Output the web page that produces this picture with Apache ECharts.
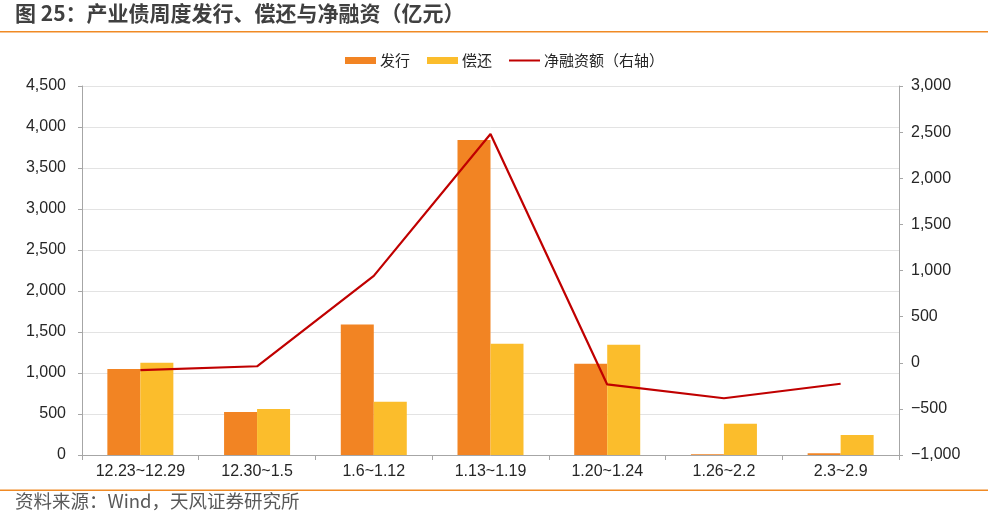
<!DOCTYPE html>
<html>
<head>
<meta charset="utf-8">
<script src="https://cdn.jsdelivr.net/npm/echarts@6/dist/echarts.min.js"></script>
<style>
html,body{margin:0;padding:0;background:#fff;}
#c{width:988px;height:515px;}
</style>
</head>
<body>
<div id="c"></div>
<script>
const categories = ['12.23~12.29','12.30~1.5','1.6~1.12','1.13~1.19','1.20~1.24','1.26~2.2','2.3~2.9'];
const issuance = [1050, 525, 1590, 3840, 1112, 10, 20];
const repayment = [1125, 562, 648, 1357, 1345, 380, 245];
const netFinancing = [-80, -38, 942, 2480, -235, -385, -228];
const leftAxisTicks = [0, 4500, 500];
const rightAxisTicks = [-1000, 3000, 500];
const seriesNames = ['发行', '偿还', '净融资额（右轴）'];
const titleText = '图 25：产业债周度发行、偿还与净融资（亿元）';
const sourceText = '资料来源：Wind，天风证券研究所';

function fmt(v){
  const s = Math.abs(v).toString().replace(/\B(?=(\d{3})+(?!\d))/g, ',');
  return (v < 0 ? '\u2212' : '') + s;
}

const lineIcon = 'path://M0,0L31,0L31,0.01L0,0.01Z M0,2.5L31,2.5L31,4.5L0,4.5Z M0,6.99L31,6.99L31,7L0,7Z';

const chart = echarts.init(document.getElementById('c'), null, {renderer:'canvas'});
const axisFont = {fontFamily:'Liberation Sans, Arial, sans-serif', fontSize:16, color:'#262626'};
chart.setOption({
  animation:false,
  backgroundColor:'#fff',
  graphic:[
    {type:'text', left:15, top:3, style:{text:titleText, font:'bold 21px "Noto Sans CJK SC", sans-serif', fill:'#404040'}},
    {type:'rect', shape:{x:0,y:31,width:988,height:1.5}, style:{fill:'#F08A24'}},
    {type:'rect', shape:{x:0,y:489.5,width:988,height:1.5}, style:{fill:'#F08A24'}},
    {type:'text', left:15, top:492, style:{text:sourceText, font:'18.5px "Noto Sans CJK SC", sans-serif', fill:'#595959'}}
  ],
  legend:{
    left:340, top:48,
    itemWidth:31, itemHeight:7, itemGap:17,
    textStyle:{fontFamily:'"Noto Sans CJK SC", sans-serif', fontSize:15, color:'#262626', padding:[0,0,0,-1]},
    data:[
      {name:seriesNames[0], icon:'rect'},
      {name:seriesNames[1], icon:'rect'},
      {name:seriesNames[2], icon:lineIcon, itemStyle:{color:'#C00000', borderWidth:0}}
    ]
  },
  grid:{left:82, right:89, top:86, bottom:60},
  xAxis:{
    type:'category', data:categories,
    axisLine:{lineStyle:{color:'#A6A6A6', width:1}},
    axisTick:{show:true, length:5, lineStyle:{color:'#A6A6A6'}},
    axisLabel:Object.assign({margin:9}, axisFont)
  },
  yAxis:[
    {type:'value', min:leftAxisTicks[0], max:leftAxisTicks[1], interval:leftAxisTicks[2],
     axisLine:{show:true, lineStyle:{color:'#A6A6A6'}},
     axisTick:{show:true, length:4, lineStyle:{color:'#A6A6A6'}},
     splitLine:{show:true, lineStyle:{color:'#E3E3E3', width:1}},
     axisLabel:Object.assign({margin:16, formatter:fmt}, axisFont)},
    {type:'value', min:rightAxisTicks[0], max:rightAxisTicks[1], interval:rightAxisTicks[2],
     axisLine:{show:true, lineStyle:{color:'#A6A6A6'}},
     axisTick:{show:true, length:4, lineStyle:{color:'#A6A6A6'}},
     splitLine:{show:false},
     axisLabel:Object.assign({margin:12, formatter:fmt}, axisFont)}
  ],
  series:[
    {name:seriesNames[0], type:'bar', data:issuance, barWidth:33, barGap:'0%', itemStyle:{color:'#F28423'}},
    {name:seriesNames[1], type:'bar', data:repayment, barWidth:33, barGap:'0%', itemStyle:{color:'#FBBD2C'}},
    {name:seriesNames[2], type:'line', yAxisIndex:1, data:netFinancing, symbol:'none', lineStyle:{color:'#C00000', width:2.2}, itemStyle:{color:'#C00000'}, z:5}
  ]
});
</script>
</body>
</html>
